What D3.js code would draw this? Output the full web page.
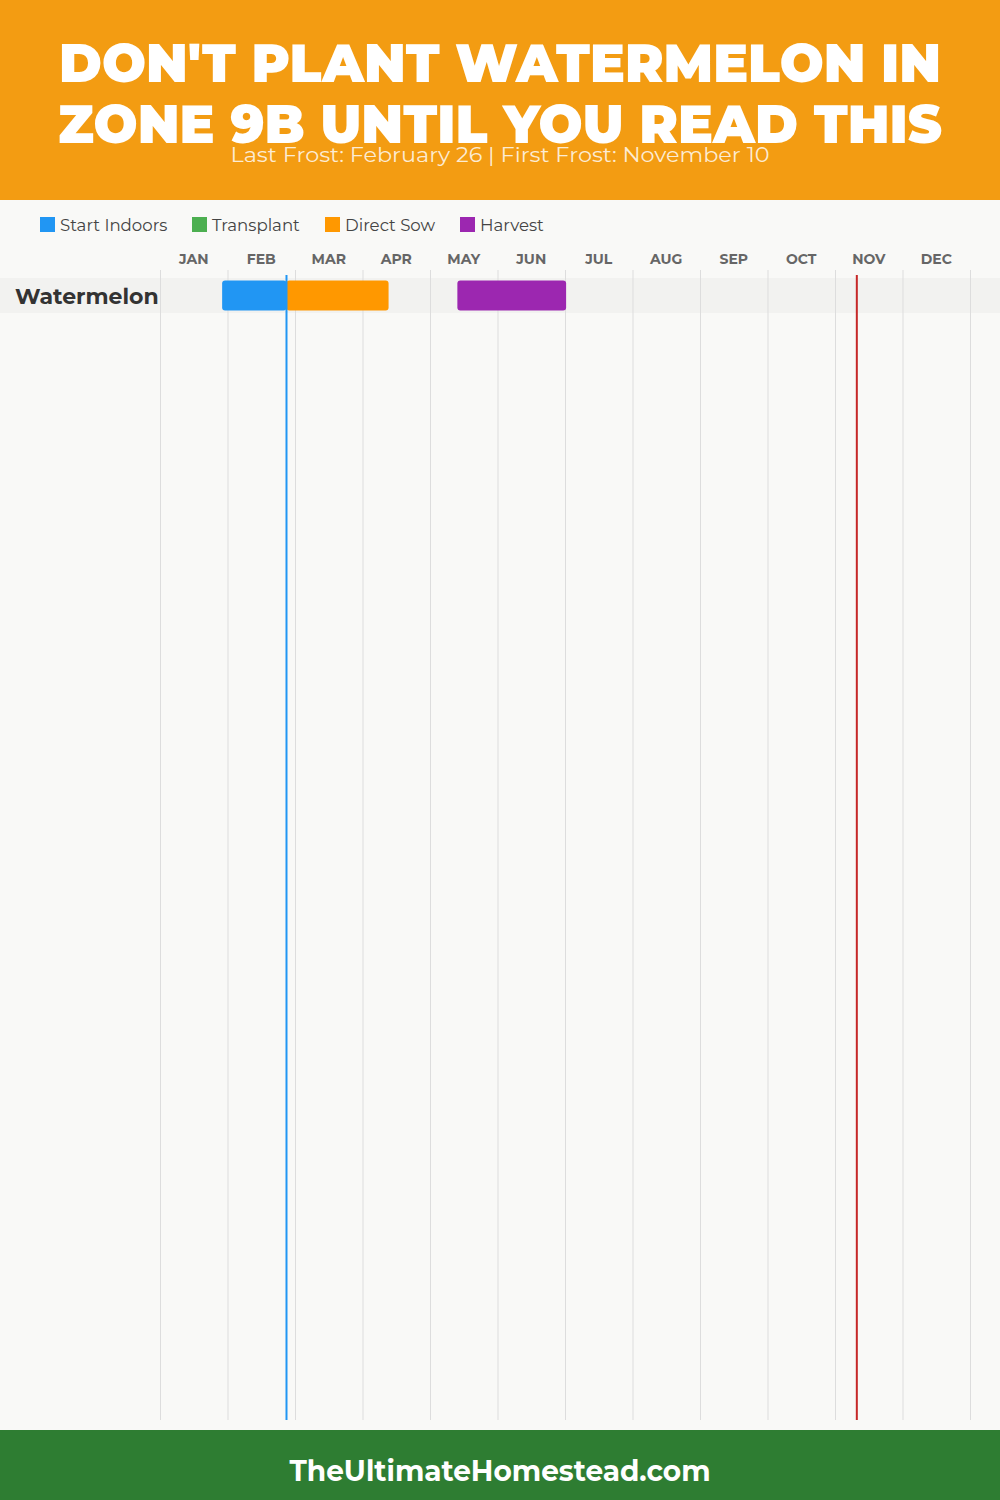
<!DOCTYPE html>
<html><head><meta charset="utf-8">
<script src="https://cdn.jsdelivr.net/npm/d3@7"></script>
<style>body{margin:0;background:#f9f9f7;}svg{display:block;}</style>
</head><body>
<svg id="chart" width="1000" height="1500"></svg>
<script>
const titleLines = ["DON'T PLANT WATERMELON IN", "ZONE 9B UNTIL YOU READ THIS"];
const subtitle = "Last Frost: February 26 | First Frost: November 10";
const footer = "TheUltimateHomestead.com";
const months = ["JAN","FEB","MAR","APR","MAY","JUN","JUL","AUG","SEP","OCT","NOV","DEC"];
const legendLabels = ["Start Indoors","Transplant","Direct Sow","Harvest"];
const legendColors = ["#2196F3","#4CAF50","#FF9800","#9C27B0"];
const crops = ["Watermelon"];
// tasks: [crop, type, start day-of-year, end day-of-year]
const taskCrop = ["Watermelon","Watermelon","Watermelon"];
const taskType = ["Start Indoors","Direct Sow","Harvest"];
const taskStart = [28, 57, 134];   // Jan 28, Feb 26, May 14
const taskEnd = [57, 103, 183];    // Feb 26, Apr 13, Jul 2
const frostLabels = ["Last Frost","First Frost"];
const frostDays = [57, 314];       // Feb 26, Nov 10
const frostColors = ["#2196F3","#C62828"];

const svg = d3.select("#chart");
const W = 1000, H = 1500;
const font = "Montserrat, Inter, 'Open Sans', sans-serif";

svg.append("rect").attr("width",W).attr("height",H).attr("fill","#f9f9f7");
// header
svg.append("rect").attr("width",W).attr("height",200).attr("fill","#F39C12");
svg.selectAll("text.title").data(titleLines).join("text").attr("class","title")
  .attr("x",W/2).attr("y",(d,i)=>82+i*61).attr("text-anchor","middle")
  .attr("font-family",font).attr("font-weight",900).attr("font-size",54)
  .attr("fill","#fff")
  .attr("textLength",(d,i)=>i===0?882:884).attr("lengthAdjust","spacingAndGlyphs")
  .text(d=>d);
svg.append("text").attr("x",W/2).attr("y",162).attr("text-anchor","middle")
  .attr("font-family",font).attr("font-size",21).attr("fill","rgba(255,255,255,0.82)")
  .attr("textLength",539).attr("lengthAdjust","spacingAndGlyphs")
  .text(subtitle);

// legend
const legX = [40,192,325,460];
const lg = svg.selectAll("g.leg").data(legendLabels).join("g").attr("class","leg")
  .attr("transform",(d,i)=>`translate(${legX[i]},217)`);
lg.append("rect").attr("width",15).attr("height",15).attr("fill",(d,i)=>legendColors[i]);
lg.append("text").attr("x",20).attr("y",13.5).attr("font-family",font).attr("font-size",16.6)
  .attr("fill","#444").text(d=>d);

// scales
const x0 = 160, x1 = 970;
const xm = d3.scaleBand().domain(months).range([x0,x1]);
const xd = d3.scaleLinear().domain([0,365]).range([x0,x1]);
const y = d3.scaleBand().domain(crops).range([278,313]);

// month labels
svg.selectAll("text.mon").data(months).join("text").attr("class","mon")
  .attr("x",d=>xm(d)+xm.bandwidth()/2).attr("y",264).attr("text-anchor","middle")
  .attr("font-family",font).attr("font-weight",700).attr("font-size",14)
  .attr("fill","#666").text(d=>d);

// row bands
svg.selectAll("rect.band").data(crops).join("rect").attr("class","band")
  .attr("x",0).attr("width",W).attr("y",d=>y(d)).attr("height",y.bandwidth())
  .attr("fill","#f2f2f0");

// grid lines
const gridX = months.map(m=>xm(m)).concat([x1]);
svg.selectAll("line.grid").data(gridX).join("line").attr("class","grid")
  .attr("x1",d=>d+0.5).attr("x2",d=>d+0.5).attr("y1",270).attr("y2",1420)
  .attr("stroke","#dddddd").attr("stroke-width",1);

// crop labels
svg.selectAll("text.crop").data(crops).join("text").attr("class","crop")
  .attr("x",15).attr("y",d=>y(d)+y.bandwidth()/2+8)
  .attr("font-family",font).attr("font-weight",700).attr("font-size",22)
  .attr("fill","#333").text(d=>d);

// bars
const color = d3.scaleOrdinal().domain(legendLabels).range(legendColors);
const tasks = taskType.map((t,i)=>({crop:taskCrop[i],type:t,s:taskStart[i],e:taskEnd[i]}));
svg.selectAll("rect.bar").data(tasks).join("rect").attr("class","bar")
  .attr("x",d=>xd(d.s)).attr("width",d=>xd(d.e)-xd(d.s))
  .attr("y",d=>y(d.crop)+2.5).attr("height",y.bandwidth()-5)
  .attr("rx",3).attr("fill",d=>color(d.type));

// frost lines
svg.selectAll("line.frost").data(frostDays).join("line").attr("class","frost")
  .attr("x1",d=>xd(d)).attr("x2",d=>xd(d)).attr("y1",275).attr("y2",1420)
  .attr("stroke",(d,i)=>frostColors[i]).attr("stroke-width",2);

// footer
svg.append("rect").attr("y",1430).attr("width",W).attr("height",70).attr("fill","#2E7D32");
svg.append("text").attr("x",W/2).attr("y",1481).attr("text-anchor","middle")
  .attr("font-family",font).attr("font-weight",700).attr("font-size",29)
  .attr("fill","#fff").attr("textLength",421).attr("lengthAdjust","spacingAndGlyphs")
  .text(footer);
</script>
</body></html>
